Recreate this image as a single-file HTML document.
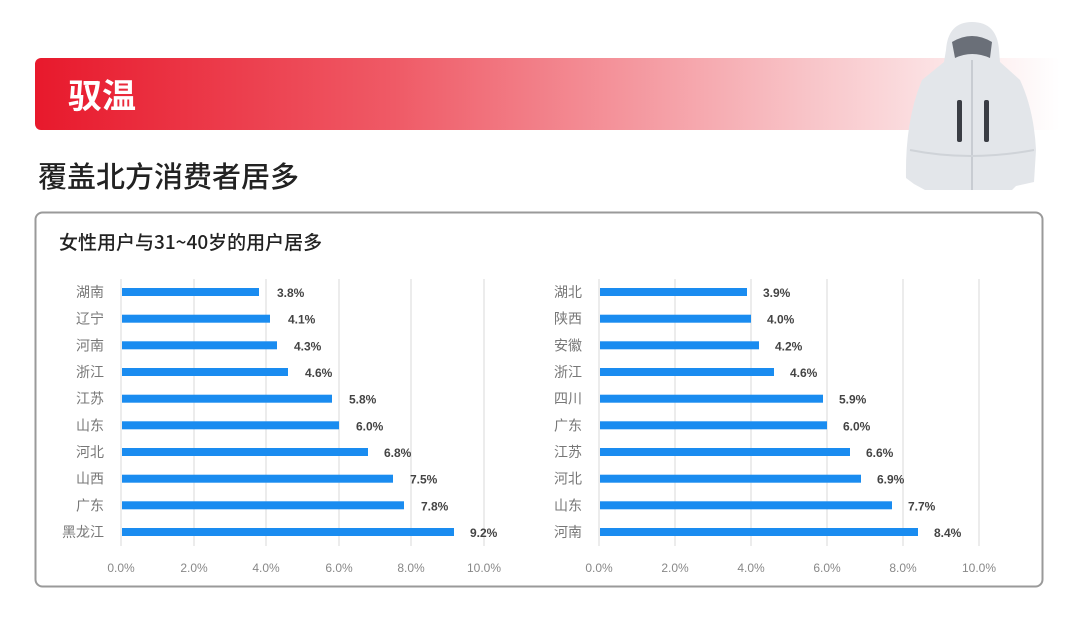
<!DOCTYPE html>
<html><head><meta charset="utf-8"><style>
body{margin:0;width:1080px;height:623px;background:#fff;overflow:hidden;font-family:"Liberation Sans","Noto Sans CJK SC",sans-serif}
</style></head><body>
<svg width="1080" height="623" viewBox="0 0 1080 623" xmlns="http://www.w3.org/2000/svg" font-family="Liberation Sans, Noto Sans CJK SC, sans-serif">
<defs>
<linearGradient id="g" x1="0" x2="1" y1="0" y2="0">
<stop offset="0" stop-color="#e8192c"/>
<stop offset="0.35" stop-color="#ef5a66"/>
<stop offset="0.75" stop-color="#f8c3c7"/>
<stop offset="1" stop-color="#ffffff"/>
</linearGradient>
</defs>
<rect x="35" y="58" width="1025" height="72" rx="6" fill="url(#g)"/>
<text x="68" y="108" font-size="34" fill="#fff" font-family="Noto Sans CJK SC, sans-serif" font-weight="bold">驭温</text>
<text x="38" y="187" font-size="29" fill="#222" font-family="Noto Sans CJK SC, sans-serif" font-weight="500">覆盖北方消费者居多</text>
<g>
<path d="M946 50 Q948 22 972 22 Q997 22 999 50 L1000 62 L1020 80 Q1034 110 1036 150 L1034 182 L1016 186 L1012 190 L925 190 L914 184 L906 178 Q905 120 922 80 L944 62 Z" fill="#e3e6ea"/>
<path d="M952 42 Q972 30 992 42 L990 58 Q972 50 955 58 Z" fill="#6a6f78"/>
<rect x="957" y="100" width="5" height="42" rx="2" fill="#3a3d44"/>
<rect x="984" y="100" width="5" height="42" rx="2" fill="#3a3d44"/>
<line x1="972" y1="60" x2="972" y2="190" stroke="#c8ccd2" stroke-width="2"/>
<path d="M910 150 Q970 162 1034 150" stroke="#cfd3d8" fill="none" stroke-width="2"/>
</g>
<rect x="35.5" y="212.5" width="1007" height="374" rx="7" fill="#fff" stroke="#9a9a9a" stroke-width="2"/>
<text x="59" y="249" font-size="19" fill="#222" font-family="Noto Sans CJK SC, sans-serif" font-weight="500">女性用户与31~40岁的用户居多</text>
<g stroke="#d9d9d9" stroke-width="1">
<line x1="121" y1="279" x2="121" y2="546"/><line x1="194" y1="279" x2="194" y2="546"/><line x1="266" y1="279" x2="266" y2="546"/><line x1="339" y1="279" x2="339" y2="546"/><line x1="411" y1="279" x2="411" y2="546"/><line x1="484" y1="279" x2="484" y2="546"/>
<line x1="599" y1="279" x2="599" y2="546"/><line x1="675" y1="279" x2="675" y2="546"/><line x1="751" y1="279" x2="751" y2="546"/><line x1="827" y1="279" x2="827" y2="546"/><line x1="903" y1="279" x2="903" y2="546"/><line x1="979" y1="279" x2="979" y2="546"/>
</g>
<g fill="#1a8cf0">
<rect x="122" y="288" width="137" height="8"/><rect x="122" y="314.7" width="148" height="8"/><rect x="122" y="341.3" width="155" height="8"/><rect x="122" y="368" width="166" height="8"/><rect x="122" y="394.7" width="210" height="8"/><rect x="122" y="421.3" width="217" height="8"/><rect x="122" y="448" width="246" height="8"/><rect x="122" y="474.7" width="271" height="8"/><rect x="122" y="501.3" width="282" height="8"/><rect x="122" y="528" width="332" height="8"/>
<rect x="600" y="288" width="147" height="8"/><rect x="600" y="314.7" width="151" height="8"/><rect x="600" y="341.3" width="159" height="8"/><rect x="600" y="368" width="174" height="8"/><rect x="600" y="394.7" width="223" height="8"/><rect x="600" y="421.3" width="227" height="8"/><rect x="600" y="448" width="250" height="8"/><rect x="600" y="474.7" width="261" height="8"/><rect x="600" y="501.3" width="292" height="8"/><rect x="600" y="528" width="318" height="8"/>
</g>
<g font-size="14" fill="#777" text-anchor="end" font-family="Noto Sans CJK SC, sans-serif">
<text x="104" y="297">湖南</text><text x="104" y="323.7">辽宁</text><text x="104" y="350.3">河南</text><text x="104" y="377">浙江</text><text x="104" y="403.7">江苏</text><text x="104" y="430.3">山东</text><text x="104" y="457">河北</text><text x="104" y="483.7">山西</text><text x="104" y="510.3">广东</text><text x="104" y="537">黑龙江</text>
<text x="582" y="297">湖北</text><text x="582" y="323.7">陕西</text><text x="582" y="350.3">安徽</text><text x="582" y="377">浙江</text><text x="582" y="403.7">四川</text><text x="582" y="430.3">广东</text><text x="582" y="457">江苏</text><text x="582" y="483.7">河北</text><text x="582" y="510.3">山东</text><text x="582" y="537">河南</text>
</g>
<g font-size="12" fill="#444" font-weight="bold">
<text x="277" y="297">3.8%</text><text x="288" y="323.7">4.1%</text><text x="294" y="350.3">4.3%</text><text x="305" y="377">4.6%</text><text x="349" y="403.7">5.8%</text><text x="356" y="430.3">6.0%</text><text x="384" y="457">6.8%</text><text x="410" y="483.7">7.5%</text><text x="421" y="510.3">7.8%</text><text x="470" y="537">9.2%</text>
<text x="763" y="297">3.9%</text><text x="767" y="323.7">4.0%</text><text x="775" y="350.3">4.2%</text><text x="790" y="377">4.6%</text><text x="839" y="403.7">5.9%</text><text x="843" y="430.3">6.0%</text><text x="866" y="457">6.6%</text><text x="877" y="483.7">6.9%</text><text x="908" y="510.3">7.7%</text><text x="934" y="537">8.4%</text>
</g>
<g font-size="12" fill="#888" text-anchor="middle">
<text x="121" y="572">0.0%</text><text x="194" y="572">2.0%</text><text x="266" y="572">4.0%</text><text x="339" y="572">6.0%</text><text x="411" y="572">8.0%</text><text x="484" y="572">10.0%</text>
<text x="599" y="572">0.0%</text><text x="675" y="572">2.0%</text><text x="751" y="572">4.0%</text><text x="827" y="572">6.0%</text><text x="903" y="572">8.0%</text><text x="979" y="572">10.0%</text>
</g>
</svg>
</body></html>
